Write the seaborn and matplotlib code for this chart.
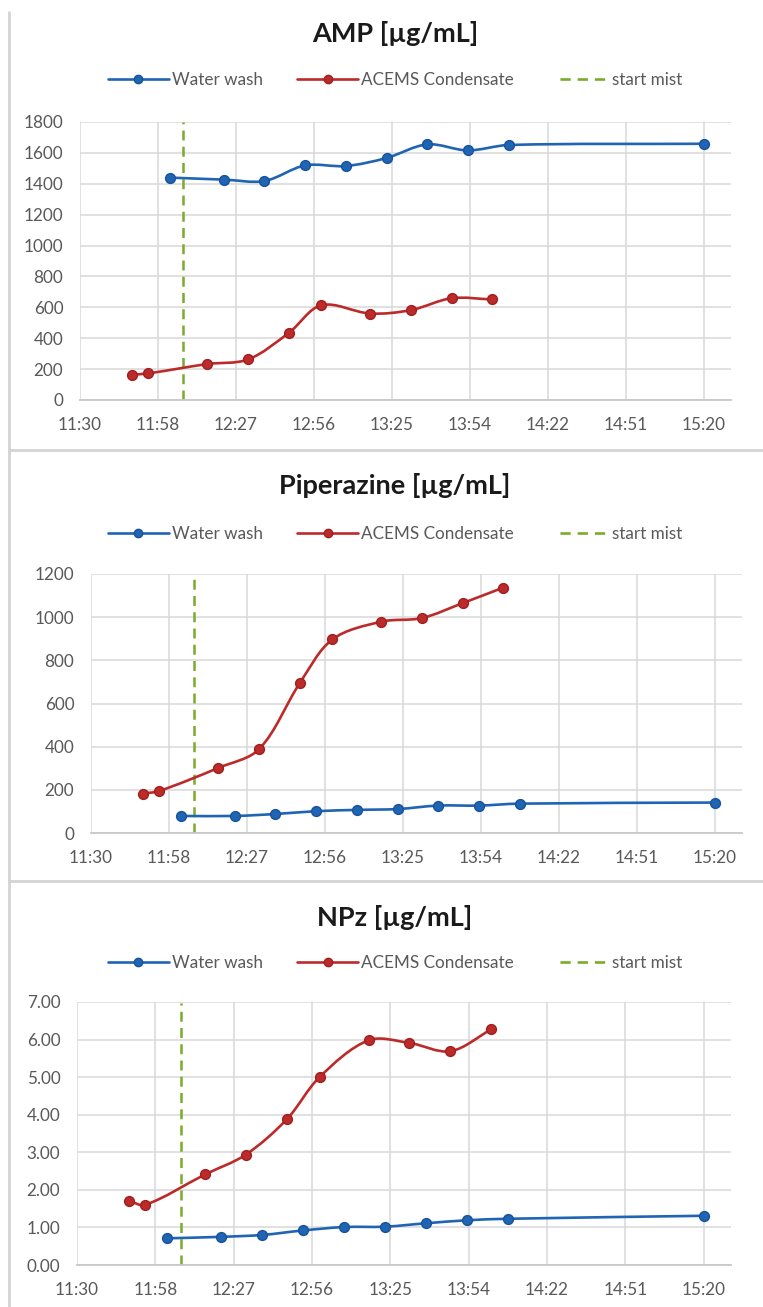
import numpy as np
import matplotlib
matplotlib.use("Agg")
import matplotlib.pyplot as plt
import seaborn as sns
from matplotlib.path import Path
from matplotlib.patches import PathPatch
from matplotlib.lines import Line2D

# sample times (h:mm)
wash_times = ["12:03", "12:23", "12:38", "12:53", "13:08", "13:23", "13:38", "13:53", "14:08", "15:20"]
cond_times = ["11:49", "11:55", "12:17", "12:32", "12:47", "12:59", "13:17", "13:32", "13:47", "14:02"]
mist_time = "12:08"

# AMP [ug/mL]
amp_wash = [1440, 1427, 1418, 1519, 1515, 1567, 1655, 1616, 1651, 1659]
amp_cond = [164, 172, 233, 263, 435, 614, 560, 582, 659, 651]

# Piperazine [ug/mL]
pz_wash = [79, 79, 88, 101, 107, 111, 127, 127, 136, 141]
pz_cond = [183, 194, 302, 389, 695, 897, 979, 996, 1065, 1137]

# NPz [ug/mL]
npz_wash = [0.71, 0.75, 0.80, 0.92, 1.01, 1.02, 1.11, 1.19, 1.23, 1.31]
npz_cond = [1.71, 1.60, 2.41, 2.94, 3.88, 5.00, 5.98, 5.91, 5.69, 6.27]

x_tick_labels = ["11:30", "11:58", "12:27", "12:56", "13:25", "13:54", "14:22", "14:51", "15:20"]

titles = ["AMP [µg/mL]", "Piperazine [µg/mL]", "NPz [µg/mL]"]
legend_labels = ["Water wash", "ACEMS Condensate", "start mist"]

BLUE = "#2064b4"
BLUE_EDGE = "#17529a"
RED = "#bd2a2a"
RED_EDGE = "#9e2020"
GREEN = "#7aab2a"
GRID = "#d9d9d9"
TXT = "#595959"


def to_min(t):
    h, m = t.split(":")
    return int(h) * 60 + int(m)


wash_x = np.array([to_min(t) for t in wash_times], dtype=float)
cond_x = np.array([to_min(t) for t in cond_times], dtype=float)
mist_x = to_min(mist_time)
x0 = to_min("11:30")
x1 = to_min("15:30")
x_ticks = x0 + 28.75 * np.arange(len(x_tick_labels))


def smooth_path(x, y, sx, sy, t=1 / 3):
    # Excel-like smoothed line: tangents weighted by neighbouring segment lengths
    pts = np.column_stack([x, y]).astype(float)
    n = len(pts)
    scr = pts * [sx, sy]
    d = np.hypot(*np.diff(scr, axis=0).T)          # segment lengths in pixels
    tang = np.zeros_like(pts)
    tang[0] = pts[1] - pts[0]
    tang[-1] = pts[-1] - pts[-2]
    tang[1:-1] = pts[2:] - pts[:-2]
    dl = np.concatenate([[0.0], d])                 # length before point i
    dr = np.concatenate([d, [0.0]])                 # length after point i
    verts = [pts[0]]
    codes = [Path.MOVETO]
    for i in range(n - 1):
        fb = t * dr[i] / (dl[i] + dr[i])
        fa = t * dl[i + 1] / (dl[i + 1] + dr[i + 1])
        verts += [pts[i] + fb * tang[i], pts[i + 1] - fa * tang[i + 1], pts[i + 1]]
        codes += [Path.CURVE4] * 3
    return Path(verts, codes)


sns.set_theme(style="whitegrid")
plt.rcParams["font.family"] = ["Lato", "DejaVu Sans"]

W, H = 763, 1307
fig = plt.figure(figsize=(W / 100, H / 100), dpi=100)
fig.patch.set_facecolor("white")

# (left, right, top, bottom) of each plot area in pixels, title y, legend y
panels = [
    dict(box=(80, 731, 122, 400), title_y=33, leg_y=80,
         wash=amp_wash, cond=amp_cond, ymax=1800, step=200, fmt="{:.0f}", mist_top=1800),
    dict(box=(91, 742, 574, 833), title_y=485, leg_y=534,
         wash=pz_wash, cond=pz_cond, ymax=1200, step=200, fmt="{:.0f}", mist_top=1175),
    dict(box=(77, 731, 1002, 1265), title_y=917, leg_y=963,
         wash=npz_wash, cond=npz_cond, ymax=7, step=1, fmt="{:.2f}", mist_top=6.97),
]

LW = 1.9
# legend key for the dashed line: blank lead-in, then three dashes
mist_key = (32.6 / LW, (7.4 / LW, 5.0 / LW, 7.4 / LW, 5.0 / LW, 7.4 / LW, 9.0 / LW))

for p, title in zip(panels, titles):
    l, r, t, b = p["box"]
    ax = fig.add_axes([l / W, 1 - b / H, (r - l) / W, (b - t) / H])
    ax.set_facecolor("white")
    sx = (r - l) / (x1 - x0)
    sy = (b - t) / p["ymax"]

    for xs, ys, c in [(wash_x, p["wash"], BLUE), (cond_x, p["cond"], RED)]:
        ax.add_patch(PathPatch(smooth_path(xs, ys, sx, sy), fill=False, ec=c, lw=LW,
                               capstyle="round", joinstyle="round", zorder=3))
    sns.scatterplot(x=wash_x, y=p["wash"], ax=ax, color=BLUE, edgecolor=BLUE_EDGE,
                    s=50, linewidth=1, zorder=4, legend=False)
    sns.scatterplot(x=cond_x, y=p["cond"], ax=ax, color=RED, edgecolor=RED_EDGE,
                    s=50, linewidth=1, zorder=4, legend=False)
    ax.plot([mist_x, mist_x], [0, p["mist_top"]], color=GREEN, lw=1.8,
            dashes=(4, 2.5), zorder=2)

    ax.set_xlim(x0, x1)
    ax.set_ylim(0, p["ymax"])
    ax.set_xticks(x_ticks)
    ax.set_xticklabels(x_tick_labels)
    yt = np.arange(0, p["ymax"] + p["step"] / 2, p["step"])
    ax.set_yticks(yt)
    ax.set_yticklabels([p["fmt"].format(v) for v in yt])
    ax.grid(True, color=GRID, lw=1.1)
    for s in ["top", "right", "left"]:
        ax.spines[s].set_visible(False)
    ax.spines["bottom"].set_color("#c8c8c8")
    ax.spines["bottom"].set_linewidth(1.3)
    ax.tick_params(axis="x", length=0, pad=12, labelsize=12.3, labelcolor=TXT)
    ax.tick_params(axis="y", length=0, pad=12, labelsize=12.3, labelcolor=TXT)
    ax.set_xlabel("")
    ax.set_ylabel("")

    fig.text(395 / W, 1 - p["title_y"] / H, title, ha="center", va="center",
             fontsize=19.5, fontweight="bold", color="#1a1a1a")

    handles = [
        Line2D([], [], color=BLUE, lw=LW, marker="o", ms=6, mfc=BLUE, mec=BLUE_EDGE),
        Line2D([], [], color=RED, lw=LW, marker="o", ms=6, mfc=RED, mec=RED_EDGE),
        Line2D([], [], color=GREEN, lw=LW, linestyle=mist_key),
    ]
    fig.legend(handles, legend_labels, loc="center", ncol=3, frameon=False,
               bbox_to_anchor=(395 / W, 1 - p["leg_y"] / H), fontsize=12.3,
               handlelength=3.6, handletextpad=0.15, columnspacing=2.0,
               labelcolor=TXT)

# light gray chart borders
border = dict(color="#d4d4d4", lw=2, transform=fig.transFigure)
fig.add_artist(Line2D([9 / W, 9 / W], [0, 1 - 12 / H], **border))
fig.add_artist(Line2D([9 / W, 1], [1 - 450 / H, 1 - 450 / H], **border))
fig.add_artist(Line2D([9 / W, 1], [1 - 881 / H, 1 - 881 / H], **border))

fig.savefig("out.png", dpi=100, facecolor="white")
